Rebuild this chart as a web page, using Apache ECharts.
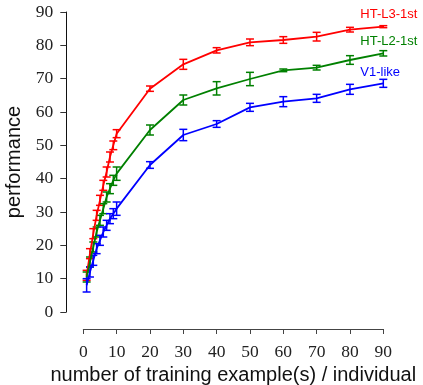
<!DOCTYPE html>
<html><head><meta charset="utf-8">
<script src="https://cdn.jsdelivr.net/npm/echarts@6/dist/echarts.min.js"></script>
<style>html,body{margin:0;padding:0;background:#fff}#c{width:423px;height:385px}</style>
</head><body><div id="c"></div>
<script>
var xValues = [1,2,3,4,5,6,7,8,9,10,20,30,40,50,60,70,80,90];
var redMean   = [11,17.5,23.5,29,33.5,38,42,46.5,50,53.5,67,74.3,78.5,80.9,81.6,82.6,84.7,85.6];
var redErr    = [1.5,1.5,1.5,1.5,1.5,1.5,1.5,1.5,1.3,1.2,0.8,1.5,0.8,1,1,1.3,0.7,0.3];
var greenMean = [10.5,15,19.5,24,27.5,31,34.5,37,39.5,41.5,54.6,63.6,67.1,69.9,72.5,73.3,75.6,77.6];
var greenErr  = [1.5,1.5,1.5,1.5,1.5,1.5,1.5,1.5,1.5,2,1.5,1.5,2,2,0.4,0.7,1.3,0.8];
var blueMean  = [8,12,15.5,19,21.5,24,26,28,29.5,31,44.1,53.1,56.4,61.4,63.1,64.1,66.8,68.6];
var blueErr   = [2,1.5,1.5,1.5,1.5,1.5,1.5,1.5,1.5,2,1,1.7,1,1.2,1.5,1.2,1.5,1.2];
var seriesNames = ['HT-L3-1st','HT-L2-1st','V1-like'];
var xTicks = [0,10,20,30,40,50,60,70,80,90];
var yTicks = [0,10,20,30,40,50,60,70,80,90];

var colors = ['#ff0000','#008000','#0000ff'];
var means = [redMean, greenMean, blueMean];
var errs = [redErr, greenErr, blueErr];
var labelOffsets = [[-31,-12.5],[-31,-11.6],[-31,-10.6]];

function lineData(m){ return xValues.map(function(x,i){return [x,m[i]];}); }
function errData(m,e){ return xValues.map(function(x,i){return [x,m[i]-e[i],m[i]+e[i]];}); }

var series = [];
for (var k=0;k<3;k++){
  (function(k){
    series.push({
      type:'line', name:seriesNames[k], data:lineData(means[k]),
      showSymbol:false, symbol:'none', z:3,
      lineStyle:{color:colors[k], width:1.8}, itemStyle:{color:colors[k]},
      endLabel:{show:true, formatter:seriesNames[k], color:colors[k],
        fontFamily:'Liberation Sans', fontSize:13, offset:labelOffsets[k]},
      animation:false
    });
    series.push({
      type:'custom', name:seriesNames[k]+' err', data:errData(means[k],errs[k]),
      encode:{x:0,y:[1,2]}, z:2, animation:false,
      renderItem:function(params, api){
        var x = api.value(0);
        var lo = api.coord([x, api.value(1)]);
        var hi = api.coord([x, api.value(2)]);
        var hw = 4;
        var st = {stroke:colors[k], lineWidth:1.5, fill:null};
        return {type:'group', children:[
          {type:'line', shape:{x1:lo[0],y1:lo[1],x2:hi[0],y2:hi[1]}, style:st},
          {type:'line', shape:{x1:lo[0]-hw,y1:lo[1],x2:lo[0]+hw,y2:lo[1]}, style:st},
          {type:'line', shape:{x1:hi[0]-hw,y1:hi[1],x2:hi[0]+hw,y2:hi[1]}, style:st}
        ]};
      }
    });
  })(k);
}

var chart = echarts.init(document.getElementById('c'), null, {renderer:'canvas'});
chart.setOption({
  backgroundColor:'#fff',
  animation:false,
  grid:{left:83.3, right:39.7, top:12, bottom:73, containLabel:false, outerBoundsMode:'none'},
  xAxis:{
    type:'value', min:xTicks[0], max:xTicks[xTicks.length-1], interval:10, offset:17,
    axisLine:{show:true, onZero:false, lineStyle:{color:'#444', width:1}},
    axisTick:{show:true, length:5, lineStyle:{color:'#444'}},
    splitLine:{show:false},
    axisLabel:{margin:14, color:'#222', fontFamily:'Liberation Serif', fontSize:17.5},
    name:'number of training example(s) / individual', nameLocation:'middle', nameGap:33,
    nameTextStyle:{color:'#111', fontFamily:'Liberation Sans', fontSize:20}
  },
  yAxis:{
    type:'value', min:yTicks[0], max:yTicks[yTicks.length-1], interval:10, offset:17,
    axisLine:{show:true, onZero:false, lineStyle:{color:'#111', width:1}},
    axisTick:{show:true, length:6, lineStyle:{color:'#333'}},
    splitLine:{show:false},
    axisLabel:{margin:13, color:'#222', fontFamily:'Liberation Serif', fontSize:17.5},
    name:'performance', nameLocation:'middle', nameGap:36, nameRotate:90,
    nameTextStyle:{color:'#111', fontFamily:'Liberation Sans', fontSize:20}
  },
  series:series
});
</script></body></html>
